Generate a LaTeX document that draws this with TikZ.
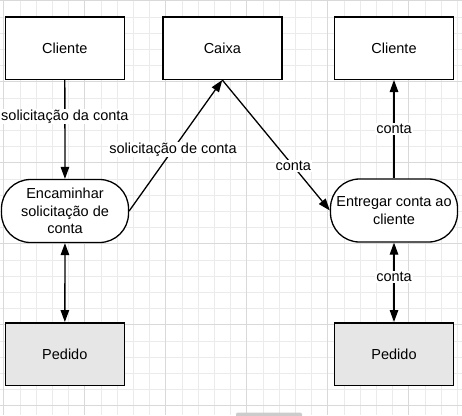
\documentclass[tikz,border=0pt]{standalone}
\usepackage{fontspec}
\setmainfont{Liberation Sans}
\usetikzlibrary{arrows.meta}

\definecolor{gridminor}{HTML}{EBEBEB}
\definecolor{gridmajor}{HTML}{D9D9D9}
\definecolor{storefill}{HTML}{E6E6E6}

\begin{document}
\begin{tikzpicture}[x=1pt, y=-1pt]
  \tikzset{
    entity/.style={draw, line width=1.5pt, minimum width=119pt, minimum height=62.5pt, fill=white, font=\fontsize{14.5}{17.5}\selectfont},
    process/.style={draw, line width=1.3pt, rounded corners=29pt, minimum width=127pt, minimum height=63pt, fill=white, align=center, font=\fontsize{14.5}{17.5}\selectfont},
    store/.style={entity, fill=storefill},
    flow/.style={line width=1.3pt, -{Triangle[length=12pt, width=8.5pt]}},
    twoway/.style={line width=1.3pt, {Triangle[length=12pt, width=8.5pt]}-{Triangle[length=12pt, width=8.5pt]}},
    flowlabel/.style={fill=white, inner sep=1pt, font=\fontsize{14.5}{17.5}\selectfont}
  }

  \useasboundingbox (0,0) rectangle (462,415);
  \fill[white] (0,0) rectangle (462,415);

  % background grid
  \foreach \gx in {0,...,28} {
    \draw[gridminor, line width=0.8pt] (3.7+16.2*\gx,0) -- (3.7+16.2*\gx,415);
  }
  \foreach \gy in {0,...,25} {
    \draw[gridminor, line width=0.8pt] (0,0.7+16.2*\gy) -- (462,0.7+16.2*\gy);
  }
  \foreach \gx in {0,...,5} {
    \draw[gridmajor, line width=0.9pt] (3.7+81*\gx,0) -- (3.7+81*\gx,415);
  }
  \foreach \gy in {0,...,5} {
    \draw[gridmajor, line width=0.9pt] (0,0.7+81*\gy) -- (462,0.7+81*\gy);
  }

  % entities and stores
  \node[entity] (cliente1) at (64.8,48) {Cliente};
  \node[entity] (caixa) at (222.3,48) {Caixa};
  \node[entity] (cliente2) at (394,48) {Cliente};
  \node[store] (pedido1) at (64.8,354) {Pedido};
  \node[store] (pedido2) at (394,354) {Pedido};

  % processes
  \node[process] (encaminhar) at (65,211) {Encaminhar\\solicitação de\\conta};
  \node[process] (entregar) at (394,210.5) {Entregar conta ao\\cliente};

  % flows
  \draw[flow] (cliente1) -- node[flowlabel, pos=0.37] {solicitação da conta} (encaminhar);
  \draw[flow] (encaminhar.east) -- node[flowlabel, pos=0.47] {solicitação de conta} (caixa.south);
  \draw[flow] (caixa.south) -- node[flowlabel, pos=0.66] {conta} (entregar.west);
  \draw[flow] (entregar) -- node[flowlabel, pos=0.5] {conta} (cliente2);
  \draw[twoway] (encaminhar) -- (pedido1);
  \draw[twoway] (entregar) -- node[flowlabel, pos=0.43] {conta} (pedido2);

  % scroll handle at the bottom edge
  \fill[gray!40, rounded corners=2pt] (236,412.5) rectangle (302,418);
\end{tikzpicture}
\end{document}
